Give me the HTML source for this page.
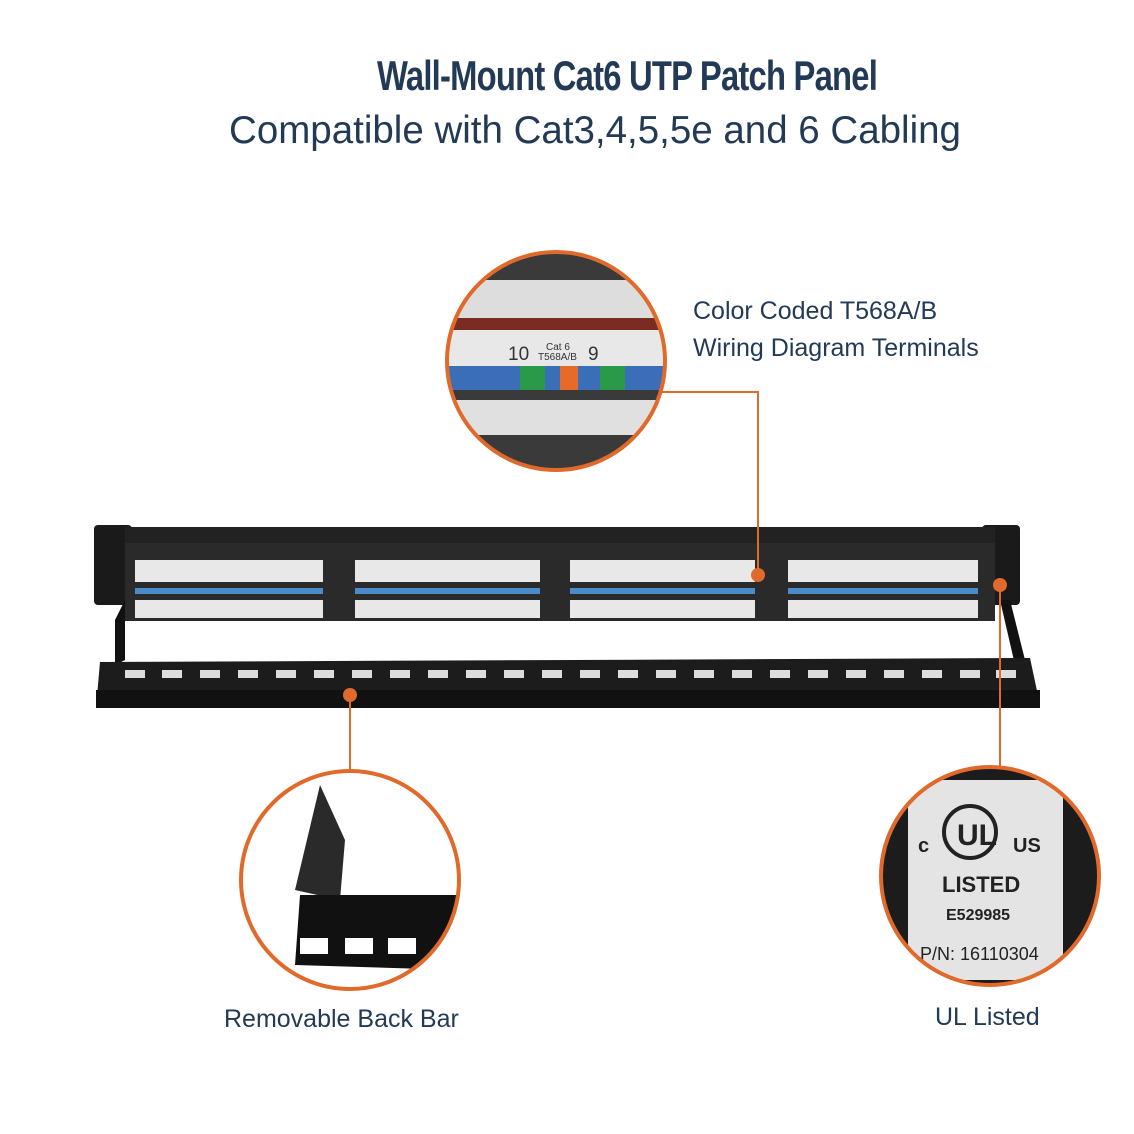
<!DOCTYPE html>
<html><head><meta charset="utf-8"><style>
body{margin:0;width:1134px;height:1134px;background:#fff;position:relative;overflow:hidden;font-family:"Liberation Sans",sans-serif;color:#233a56}
.t{position:absolute;left:0;width:1134px;text-align:center;white-space:nowrap}
.l{position:absolute;white-space:nowrap;font-size:25px}
</style></head><body>
<div class="t" style="top:52px;left:60px;font-size:42px;font-weight:bold;font-family:'Liberation Sans Narrow','Liberation Sans',sans-serif;transform:scaleX(0.78);letter-spacing:-1px">Wall-Mount Cat6 UTP Patch Panel</div>
<div class="t" style="top:109px;left:28px;font-size:38.5px">Compatible with Cat3,4,5,5e and 6 Cabling</div>
<div class="l" style="left:693px;top:297px">Color Coded T568A/B</div>
<div class="l" style="left:693px;top:334px">Wiring Diagram Terminals</div>
<div class="l" style="left:224px;top:1005px">Removable Back Bar</div>
<div class="l" style="left:935px;top:1003px">UL Listed</div>
<svg width="1134" height="1134" style="position:absolute;left:0;top:0">
<defs><clipPath id="c1"><circle cx="556" cy="361" r="108"/></clipPath>
<clipPath id="c2"><circle cx="350" cy="880" r="108"/></clipPath>
<clipPath id="c3"><circle cx="990" cy="876" r="108"/></clipPath></defs>
<rect x="94" y="525" width="38" height="80" rx="4" fill="#1a1a1a"/>
<rect x="982" y="525" width="38" height="80" rx="4" fill="#1a1a1a"/>
<rect x="125" y="527" width="870" height="16" fill="#222"/>
<rect x="125" y="543" width="870" height="78" fill="#2a2a2a"/>
<g fill="#e8e8e8">
<rect x="135" y="560" width="188" height="22"/><rect x="135" y="600" width="188" height="18"/>
<rect x="355" y="560" width="185" height="22"/><rect x="355" y="600" width="185" height="18"/>
<rect x="570" y="560" width="185" height="22"/><rect x="570" y="600" width="185" height="18"/>
<rect x="788" y="560" width="190" height="22"/><rect x="788" y="600" width="190" height="18"/>
</g>
<g fill="#4a8bc8"><rect x="135" y="588" width="188" height="6"/><rect x="355" y="588" width="185" height="6"/><rect x="570" y="588" width="185" height="6"/><rect x="788" y="588" width="190" height="6"/></g>
<polygon points="115,620 125,600 125,660 115,665" fill="#111"/>
<polygon points="1000,600 1010,600 1025,660 1015,665" fill="#111"/>
<polygon points="100,662 1030,658 1040,705 96,708" fill="#1c1c1c"/>
<rect x="96" y="690" width="944" height="18" fill="#111"/>
<g fill="#ddd">
<rect x="125" y="670" width="20" height="8"/><rect x="162" y="670" width="20" height="8"/><rect x="200" y="670" width="20" height="8"/><rect x="238" y="670" width="20" height="8"/><rect x="276" y="670" width="20" height="8"/><rect x="314" y="670" width="20" height="8"/><rect x="352" y="670" width="20" height="8"/><rect x="390" y="670" width="20" height="8"/><rect x="428" y="670" width="20" height="8"/><rect x="466" y="670" width="20" height="8"/><rect x="504" y="670" width="20" height="8"/><rect x="542" y="670" width="20" height="8"/><rect x="580" y="670" width="20" height="8"/><rect x="618" y="670" width="20" height="8"/><rect x="656" y="670" width="20" height="8"/><rect x="694" y="670" width="20" height="8"/><rect x="732" y="670" width="20" height="8"/><rect x="770" y="670" width="20" height="8"/><rect x="808" y="670" width="20" height="8"/><rect x="846" y="670" width="20" height="8"/><rect x="884" y="670" width="20" height="8"/><rect x="922" y="670" width="20" height="8"/><rect x="960" y="670" width="20" height="8"/><rect x="996" y="670" width="20" height="8"/>
</g>
<g stroke="#e06a2c" stroke-width="2" fill="none">
<polyline points="758,575 758,392 662,392"/>
<line x1="350" y1="695" x2="350" y2="772"/>
<line x1="1000" y1="585" x2="1000" y2="768"/>
</g>
<g fill="#e06a2c"><circle cx="758" cy="575" r="7"/><circle cx="350" cy="695" r="7"/><circle cx="1000" cy="585" r="7"/></g>
<g clip-path="url(#c1)">
<rect x="440" y="250" width="230" height="230" fill="#3a3a3a"/>
<rect x="440" y="280" width="230" height="40" fill="#ddd"/>
<rect x="440" y="318" width="230" height="12" fill="#7a2c22"/>
<rect x="440" y="330" width="230" height="36" fill="#e8e8e8"/>
<rect x="440" y="366" width="230" height="24" fill="#3a6fb8"/>
<rect x="520" y="366" width="25" height="24" fill="#2a9a4a"/><rect x="600" y="366" width="25" height="24" fill="#2a9a4a"/><rect x="560" y="366" width="18" height="24" fill="#e86a2a"/>
<rect x="440" y="400" width="230" height="35" fill="#e0e0e0"/>
<text x="508" y="360" font-size="19" fill="#333">10</text><text x="588" y="360" font-size="19" fill="#333">9</text>
<text x="546" y="350" font-size="10" fill="#333">Cat 6</text><text x="538" y="360" font-size="10" fill="#333">T568A/B</text>
</g>
<circle cx="556" cy="361" r="109" fill="none" stroke="#e06a2c" stroke-width="4"/>
<g clip-path="url(#c2)">
<rect x="240" y="770" width="220" height="220" fill="#fff"/>
<polygon points="295,890 320,785 345,840 340,900" fill="#2a2a2a"/>
<polygon points="300,895 460,895 460,970 295,965" fill="#111"/>
<g fill="#fff"><rect x="300" y="938" width="28" height="16"/><rect x="345" y="938" width="28" height="16"/><rect x="388" y="938" width="28" height="16"/></g>
</g>
<circle cx="350" cy="880" r="109" fill="none" stroke="#e06a2c" stroke-width="4"/>
<g clip-path="url(#c3)">
<rect x="880" y="766" width="220" height="220" fill="#1c1c1c"/>
<rect x="908" y="780" width="155" height="200" fill="#e4e4e4"/>
<circle cx="970" cy="832" r="26" fill="none" stroke="#222" stroke-width="4"/>
<text x="957" y="845" font-size="30" font-weight="bold" fill="#222">UL</text>
<text x="918" y="852" font-size="20" font-weight="bold" fill="#222">c</text>
<text x="1013" y="852" font-size="20" font-weight="bold" fill="#222">US</text>
<text x="942" y="892" font-size="22" font-weight="bold" fill="#222">LISTED</text>
<text x="946" y="920" font-size="16" font-weight="bold" fill="#222">E529985</text>
<text x="920" y="960" font-size="18" fill="#222">P/N: 16110304</text>
</g>
<circle cx="990" cy="876" r="109" fill="none" stroke="#e06a2c" stroke-width="4"/>
</svg>
</body></html>
